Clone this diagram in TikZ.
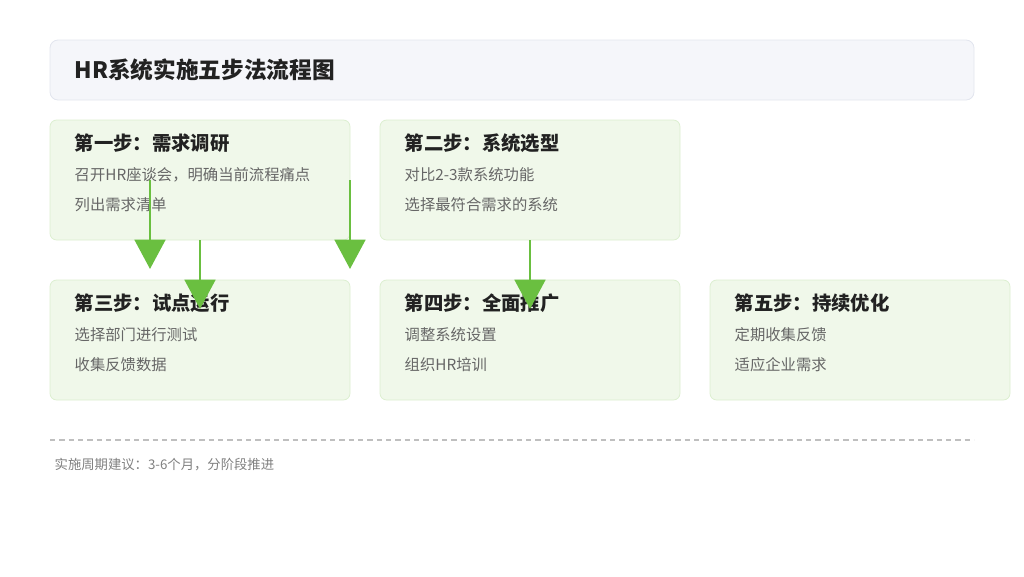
\documentclass[tikz,border=0pt]{standalone}
\usepackage{fontspec}
\setmainfont{Noto Sans CJK SC}
\usetikzlibrary{arrows.meta}
\definecolor{boxfill}{HTML}{F0F8EA}
\definecolor{boxline}{HTML}{DCEFD0}
\definecolor{titlefill}{HTML}{F5F6FA}
\definecolor{titleline}{HTML}{E2E5EE}
\definecolor{arrowc}{HTML}{6ABF40}
\definecolor{txt}{HTML}{222222}
\definecolor{sub}{HTML}{666666}
\tikzset{
 stepbox/.style={draw=boxline,fill=boxfill,rounded corners=5pt,line width=0.6pt},
 head/.style={anchor=west,font=\fontsize{14.5pt}{17pt}\selectfont\bfseries,text=txt},
 line/.style={anchor=west,font=\fontsize{11.5pt}{14pt}\selectfont,text=sub},
 flow/.style={draw=arrowc,line width=2.2pt,-{Triangle[length=22pt,width=23pt]}}
}
\begin{document}
\begin{tikzpicture}[x=0.75pt,y=-0.75pt]
\useasboundingbox (0,0) rectangle (1024,576);
\draw[draw=titleline,fill=titlefill,rounded corners=6pt,line width=0.6pt] (50,40) rectangle (974,100);
\node[anchor=west,font=\fontsize{17pt}{20pt}\selectfont\bfseries,text=txt] (title) at (70,70) {HR系统实施五步法流程图};
\draw[stepbox] (50,120) rectangle (350,240);
\draw[stepbox] (380,120) rectangle (680,240);
\draw[stepbox] (50,280) rectangle (350,400);
\draw[stepbox] (380,280) rectangle (680,400);
\draw[stepbox] (710,280) rectangle (1010,400);
\node[head] (h1) at (70,143) {第一步：需求调研};
\node[line] (a1) at (70,175) {召开HR座谈会，明确当前流程痛点};
\node[line] (b1) at (70,205) {列出需求清单};
\node[head] (h2) at (400,143) {第二步：系统选型};
\node[line] (a2) at (400,175) {对比2-3款系统功能};
\node[line] (b2) at (400,205) {选择最符合需求的系统};
\node[head] (h3) at (70,303) {第三步：试点运行};
\node[line] (a3) at (70,335) {选择部门进行测试};
\node[line] (b3) at (70,365) {收集反馈数据};
\node[head] (h4) at (400,303) {第四步：全面推广};
\node[line] (a4) at (400,335) {调整系统设置};
\node[line] (b4) at (400,365) {组织HR培训};
\node[head] (h5) at (730,303) {第五步：持续优化};
\node[line] (a5) at (730,335) {定期收集反馈};
\node[line] (b5) at (730,365) {适应企业需求};
\coordinate (s1) at (150,180); \coordinate (e1) at (150,269);
\coordinate (s2) at (200,240); \coordinate (e2) at (200,309);
\coordinate (s3) at (350,180); \coordinate (e3) at (350,269);
\coordinate (s4) at (530,240); \coordinate (e4) at (530,309);
\draw[flow] (s1) -- (e1);
\draw[flow] (s2) -- (e2);
\draw[flow] (s3) -- (e3);
\draw[flow] (s4) -- (e4);
\coordinate (d1) at (50,440); \coordinate (d2) at (974,440);
\draw[draw=black!25,dashed,line width=0.9pt,dash pattern=on 4pt off 3pt] (d1) -- (d2);
\node[anchor=west,font=\fontsize{10pt}{12pt}\selectfont,text=black!50] (foot) at (50,465) {实施周期建议：3-6个月，分阶段推进};
\end{tikzpicture}
\end{document}
